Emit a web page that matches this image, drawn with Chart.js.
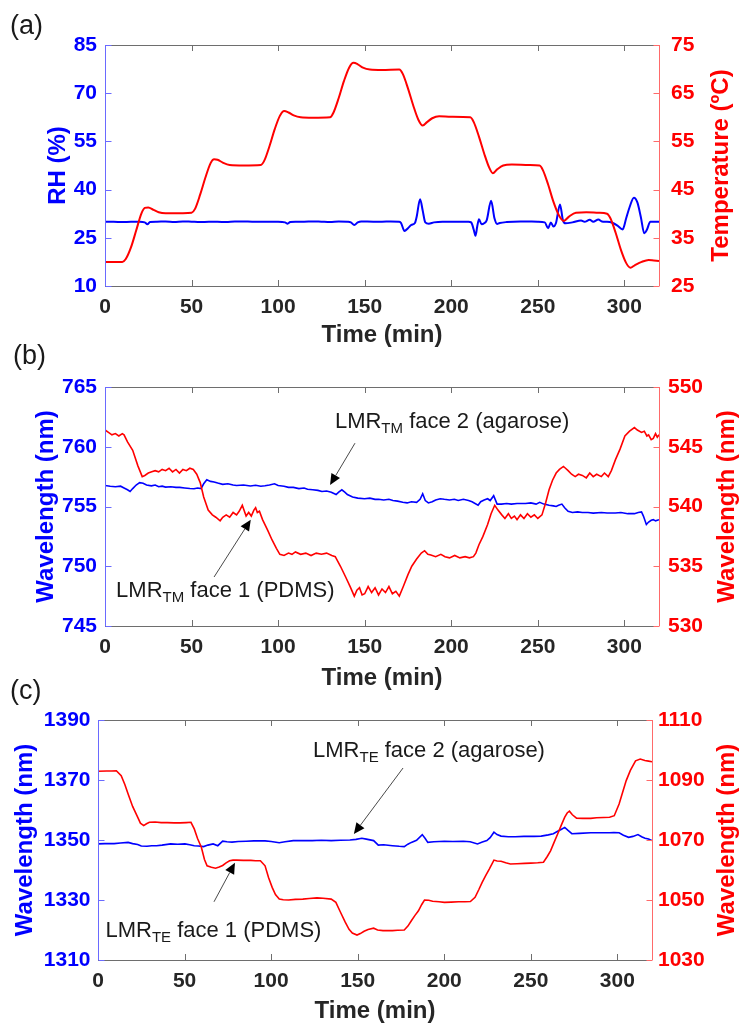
<!DOCTYPE html>
<html><head><meta charset="utf-8">
<script src="https://cdn.jsdelivr.net/npm/chart.js@4.4.1/dist/chart.umd.min.js"></script>
<style>
html,body{margin:0;padding:0;background:#fff;width:742px;height:1027px;overflow:hidden;position:relative;}
canvas{position:absolute;left:0;}
.lbl{position:absolute;font-family:"Liberation Sans",Arial,sans-serif;font-size:27px;line-height:31px;color:#1a1a1a;}
</style></head><body>
<canvas id="ca" width="742" height="350" style="top:0px"></canvas>
<canvas id="cb" width="742" height="345" style="top:350px"></canvas>
<canvas id="cc" width="742" height="332" style="top:695px"></canvas>
<div class="lbl" style="left:10px;top:10px">(a)</div>
<div class="lbl" style="left:13px;top:340px">(b)</div>
<div class="lbl" style="left:10px;top:675px">(c)</div>
<script>
// ---------- tick labels ----------
const xTicks = [0, 50, 100, 150, 200, 250, 300];
const rhTicks = [10, 25, 40, 55, 70, 85];
const tempTicks = [25, 35, 45, 55, 65, 75];
const tmLeftTicks = [745, 750, 755, 760, 765];
const tmRightTicks = [530, 535, 540, 545, 550];
const teLeftTicks = [1310, 1330, 1350, 1370, 1390];
const teRightTicks = [1030, 1050, 1070, 1090, 1110];

// ---------- panel (a) ----------
const tempTime = [0,10,12,15,18,21,23,25,28,31,35,40,45,50,52,55,58,61,63,65,68,72,80,90,92,95,98,101,103.5,106,109,113,120,130,132,135,138,141,143.5,146,149,153,160,170,172,175,178,181,183.5,186,189,193,200,211,213,216,219,222,224,226.5,230,235,245,251,253,256,259,262,265,268,272,278,285,290,292,295,298,301,303.5,306,310,314,317,320];
const temperature = [30.0,30.0,30.6,33.0,36.5,40.0,41.2,41.3,40.8,40.3,40.1,40.1,40.1,40.2,41.0,44.0,47.5,50.5,51.3,51.2,50.6,50.1,50.0,50.1,51.0,54.0,57.5,60.3,61.3,61.0,60.4,60.0,59.9,60.0,61.0,64.0,67.5,70.3,71.3,71.0,70.3,69.9,69.8,69.9,69.0,66.0,62.5,59.5,58.3,59.0,59.8,60.2,60.1,60.0,59.0,56.0,52.5,49.5,48.4,49.2,50.0,50.2,50.1,50.0,49.0,46.0,42.5,39.8,38.5,39.4,40.2,40.3,40.2,40.0,39.0,36.0,32.5,29.8,28.8,29.3,30.0,30.4,30.3,30.2];

const rhTime = [0,5,10,15,20,23,24.5,26,30,35,40,45,50,55,60,65,70,75,80,85,90,95,100,104,105.5,107,110,115,120,125,130,135,140,142,144,146,148,155,160,165,170,171,173,175,177,179,180,182,183.5,185,187,190,195,200,205,210,211.5,213,214,215,216,217.5,219,220.5,223,225,226.5,228,232,240,250,254,256,257.5,259,260.5,262.8,264.5,266,270,275,277,280,282,285,287,290,293,296,299,301,303,305.5,307.5,309.5,311.5,313,315,320];
const rh = [30.0,30.0,29.9,30.0,30.0,29.8,29.2,29.9,30.0,30.1,29.9,30.1,30.0,29.9,30.0,30.0,29.9,30.1,30.1,30.0,30.0,30.0,30.0,29.8,29.4,29.9,30.0,30.0,30.1,30.0,29.9,30.1,30.0,29.8,29.0,29.8,30.1,30.0,30.0,30.1,30.0,29.6,27.1,28.0,29.0,29.6,31.5,37.0,33.5,29.8,29.4,29.8,30.0,30.0,30.0,30.0,29.8,27.5,25.6,28.5,30.8,29.2,29.5,30.5,36.5,31.0,29.3,29.6,29.9,30.1,30.0,29.8,28.0,29.8,28.5,29.6,35.4,30.5,29.5,29.8,30.4,30.0,30.6,30.0,30.7,30.1,30.0,29.7,28.8,27.6,31.0,34.5,37.5,36.0,31.5,26.4,27.5,30.0,30.0];

// ---------- panel (b) ----------
const tmFace1Time = [0,2,4,6,8,10,11,13,16,19,21.5,23,25,27,29,31,33,35,37,39,41,43,45,47,49,51,53,55,57,59.6,62,64,66.5,68,70,72,74,76,77.5,79.3,81.5,83,84.5,86,87,88,89.2,91,94,96.5,99,101,103.4,106,108,110,113,116,119,122,125,128,131,133,136,139,141.6,144,145.5,147,148.5,150,152,154,156,158,160,162,164,166,168,170,172.3,175,177.2,180,182.7,184.6,186.5,188.2,191,194,196.4,199,202,205,208,210.5,212.8,214.2,216,218.3,221,223,225.1,227,229.2,231,233,234.7,236.5,238,240,242,244,246,248,250,252.4,254.5,256.5,258.5,260.6,262.5,264.8,266,267.5,269.5,271.6,273.5,275.7,278,280,282,284,286.7,288.5,290.7,292.5,294.8,297.5,300.3,303,305.8,307.5,309.9,311.5,313,314,315.5,316.7,318,319,320];
const tmFace1 = [546.4,546.2,546.0,546.1,545.9,546.1,546.0,545.4,544.7,543.4,542.5,542.6,542.8,542.9,543.0,542.9,543.1,543.0,543.2,542.9,543.1,542.8,543.1,543.0,543.2,543.1,542.7,542.0,540.8,539.7,539.3,539.1,538.8,539.1,539.3,539.1,539.5,539.3,539.6,540.1,539.2,539.5,539.2,539.7,539.9,539.5,539.6,538.9,538.0,537.2,536.5,536.0,535.9,536.1,536.0,536.2,536.0,536.1,535.9,536.1,536.0,536.1,535.9,535.8,535.0,534.1,533.3,532.5,533.0,533.2,532.6,532.7,533.3,532.8,533.2,532.6,533.1,532.8,533.3,532.7,532.9,532.5,533.3,534.3,535.0,535.6,536.1,536.3,536.0,535.95,535.8,536.0,535.8,535.7,535.9,535.7,535.8,535.7,535.8,536.1,536.8,537.5,538.5,539.4,540.1,539.7,539.3,539.0,539.4,539.0,539.2,538.9,539.3,539.0,539.4,539.1,539.3,539.0,539.3,540.3,541.4,542.2,542.8,543.1,543.35,543.2,543.0,542.7,542.5,542.7,542.6,542.4,542.8,542.5,542.7,542.5,542.8,542.5,543.0,543.9,544.8,545.9,546.3,546.6,546.4,546.2,546.3,545.9,546.0,545.6,545.7,546.1,545.8,546.0];

const tmFace2Time = [0,3,6,9,11,13,14.5,16,18,20,22,24,26.8,29,31,33,35,38,41,43.2,46,49,51.4,53.5,55.5,57,58.8,61,63,65.1,68,71,74,76,80,84,87,90,92.4,95,97.9,100,103.4,106,108.8,112,115,117,120,123,125.3,128,130.7,133.5,135,136.8,138.5,140,143,146,149.9,153,156,158,161,164,166.3,169,172,174.5,177,180,182,183.5,185,186.8,189,191,193.6,196,199,201.8,204,207,210,212,215.5,217,219,221,222.5,224.5,226.5,229,232,234.7,238,242.9,246,249,251.1,253.5,256.5,259,260.6,262,263.9,265.5,267.5,270,273,275.7,279,282,286.7,290,294.8,298,302,305.8,308,309.9,311,312.7,314,315.5,316.7,318,320];
const tmFace2 = [756.76,756.7,756.65,756.7,756.55,756.4,756.26,756.5,756.8,757.0,756.95,756.8,756.73,756.8,756.65,756.7,756.62,756.65,756.6,756.6,756.55,756.5,756.48,756.55,756.5,756.9,757.24,757.1,757.05,756.96,756.85,756.9,756.8,756.76,756.8,756.72,756.78,756.7,756.73,756.8,756.9,756.75,756.7,756.6,756.6,756.5,756.55,756.45,756.4,756.35,756.26,756.3,756.2,756.0,756.2,756.4,756.2,756.0,755.8,755.7,755.65,755.7,755.6,755.6,755.55,755.6,755.5,755.45,755.35,755.3,755.4,755.35,755.6,756.06,755.5,755.3,755.4,755.55,755.65,755.6,755.55,755.6,755.5,755.6,755.5,755.4,755.1,755.4,755.55,755.65,755.5,755.9,755.2,755.2,755.25,755.2,755.25,755.25,755.3,755.2,755.35,755.2,755.1,755.05,755.0,755.1,755.2,754.9,754.6,754.5,754.55,754.5,754.5,754.45,754.5,754.45,754.45,754.5,754.4,754.4,754.5,754.55,754.2,753.5,753.7,753.85,753.9,753.8,753.9];

// ---------- panel (c) ----------
const teFace1Time = [0,5,8,10.6,13.4,15.5,17.4,20,22.9,24.5,26.4,28,29.7,33,36.5,40,44,47.4,51,53.7,55.6,57.5,59.7,61.5,63,65.5,67.9,70,72,74,76,78,80.1,84,88.3,91,93.8,96.5,98.5,100.6,102.5,104.7,107,110.1,114,118.3,122,126.5,130,134.7,137.4,140,142.8,145,146.9,149.6,151.5,153.7,156,159.2,161.5,164.6,167,170.1,173,176.9,179,181,183,185.1,187,188.6,191,193.3,197,200.1,204,208.3,212,215.1,217.8,220,221.9,224,226,228.7,230.5,232.8,235.5,238.2,242,246.4,250,254,257.3,259.5,261.4,263.5,265.5,267.5,269.6,271,272.3,274,276.4,280,284.6,288,292,295.5,298.2,301,303,305.1,307.5,310.5,313.2,315.9,318,320];
const teFace1 = [1092.9,1093.0,1093.0,1093.1,1091.4,1088.5,1085.3,1081.2,1077.6,1075.6,1074.8,1075.4,1075.9,1076.0,1075.8,1075.8,1075.7,1075.7,1075.8,1075.9,1073.7,1070.5,1067.6,1063.5,1061.4,1060.9,1060.6,1061.0,1061.5,1062.4,1063.1,1063.3,1063.3,1063.2,1063.2,1063.1,1063.1,1061.4,1057.5,1054.2,1051.8,1050.3,1050.1,1050.0,1050.2,1050.3,1050.5,1050.7,1050.6,1050.3,1049.2,1046.0,1042.6,1040.2,1039.0,1038.3,1038.8,1039.6,1040.2,1040.6,1040.0,1039.8,1039.8,1039.8,1039.9,1040.0,1041.3,1043.1,1044.8,1046.4,1048.5,1050.0,1049.9,1049.6,1049.4,1049.2,1049.3,1049.4,1049.4,1049.5,1050.9,1053.5,1055.9,1058.2,1060.3,1063.3,1063.0,1062.9,1062.4,1062.0,1062.1,1062.2,1062.3,1062.4,1062.6,1064.5,1066.4,1069.3,1072.0,1074.8,1077.6,1079.0,1079.6,1078.4,1077.3,1077.2,1077.2,1077.4,1077.5,1077.6,1078.1,1082.0,1085.8,1089.8,1093.2,1096.4,1097.0,1096.5,1096.3,1096.1];

const teFace2Time = [0,4,9.3,13,17.4,20,22.9,25,28.3,31,33.8,37,42,46,50.2,53,55.6,58,61,63.5,66.5,69.2,72,74.5,77.4,81,85.6,90,96.5,100,104.7,108,112.8,118,123.7,129,134.7,140,145.5,149,152.4,155,159.2,161.9,165,170.1,174,176.9,179,181,184,187.3,189,190.5,194,200.1,205,211,215,219.2,222,224.6,226.5,228.7,230.5,232.8,237,241,246,251.9,256,260.1,263,265.5,267.5,269.6,271.5,273.7,278,284.6,290,295.5,298,301,303.5,306.5,309,311.9,314,316,318,320];
const teFace2 = [1348.7,1348.8,1348.8,1349.0,1349.2,1348.8,1348.5,1348.0,1347.9,1348.1,1348.1,1348.3,1348.7,1348.6,1348.7,1348.4,1348.1,1348.0,1347.8,1348.3,1348.7,1348.1,1349.6,1349.4,1349.3,1349.5,1349.6,1349.7,1349.7,1349.5,1349.1,1349.4,1349.8,1349.8,1349.8,1349.9,1349.8,1349.9,1350.0,1350.2,1350.6,1350.3,1349.8,1348.3,1348.4,1348.1,1347.9,1347.8,1348.6,1349.2,1349.9,1351.8,1350.5,1349.2,1349.4,1349.6,1349.5,1349.6,1349.4,1348.7,1349.3,1349.8,1350.8,1352.6,1351.8,1351.3,1351.1,1351.1,1351.2,1351.2,1351.3,1351.7,1352.1,1352.9,1353.5,1354.2,1353.2,1352.1,1352.2,1352.4,1352.4,1352.4,1352.5,1352.4,1351.6,1350.9,1351.2,1351.8,1351.1,1350.6,1350.3,1349.8];

// ---------- helpers ----------
const FONT = '"Liberation Sans", Arial, Helvetica, sans-serif';
const BLUE = '#0000ff', RED = '#ff0000', DARK = '#262626';
function pts(xs, ys) { return xs.map((x, i) => ({ x: x, y: ys[i] })); }
function setTicks(arr) { return function (s) { s.ticks = arr.map(v => ({ value: v })); }; }
const plain = v => String(v);

const framePlugin = {
  id: 'frame',
  afterDraw(chart, args, o) {
    const { ctx, chartArea: ca, scales } = chart;
    const tl = 6;
    ctx.save();
    ctx.lineWidth = 1;
    ctx.strokeStyle = '#6e6e6e';
    scales.x.ticks.forEach(t => {
      const px = Math.round(scales.x.getPixelForValue(t.value)) + 0.5;
      ctx.beginPath();
      ctx.moveTo(px, ca.bottom); ctx.lineTo(px, ca.bottom - tl);
      ctx.moveTo(px, ca.top); ctx.lineTo(px, ca.top + tl);
      ctx.stroke();
    });
    ctx.beginPath();
    ctx.moveTo(ca.left, Math.round(ca.top) + 0.5); ctx.lineTo(ca.right, Math.round(ca.top) + 0.5);
    ctx.moveTo(ca.left, Math.round(ca.bottom) + 0.5); ctx.lineTo(ca.right, Math.round(ca.bottom) + 0.5);
    ctx.stroke();
    ctx.strokeStyle = '#6a6aff';
    ctx.beginPath();
    const lx = Math.round(ca.left) + 0.5;
    ctx.moveTo(lx, ca.top); ctx.lineTo(lx, ca.bottom);
    scales.yL.ticks.forEach(t => {
      const py = Math.round(scales.yL.getPixelForValue(t.value)) + 0.5;
      ctx.moveTo(lx, py); ctx.lineTo(lx + tl, py);
    });
    ctx.stroke();
    ctx.strokeStyle = '#ff6a6a';
    ctx.beginPath();
    const rx = Math.round(ca.right) + 0.5;
    ctx.moveTo(rx, ca.top); ctx.lineTo(rx, ca.bottom);
    scales.yR.ticks.forEach(t => {
      const py = Math.round(scales.yR.getPixelForValue(t.value)) + 0.5;
      ctx.moveTo(rx, py); ctx.lineTo(rx - tl, py);
    });
    ctx.stroke();
    // right title (reads bottom to top)
    ctx.save();
    ctx.translate(o.rtx, (ca.top + ca.bottom) / 2);
    ctx.rotate(-Math.PI / 2);
    ctx.font = 'bold 24px ' + FONT;
    ctx.fillStyle = RED;
    ctx.textAlign = 'center';
    ctx.textBaseline = 'middle';
    ctx.fillText(o.rightTitle, 0, 0);
    ctx.restore();
    // annotations
    (o.annos || []).forEach(a => {
      const x = scales.x.getPixelForValue(a.tx);
      const y = scales.yL.getPixelForValue(a.ty);
      ctx.fillStyle = '#1a1a1a';
      ctx.textAlign = 'left';
      ctx.textBaseline = 'middle';
      ctx.font = '22px ' + FONT;
      ctx.fillText('LMR', x, y);
      let w = ctx.measureText('LMR').width;
      ctx.font = '15px ' + FONT;
      ctx.fillText(a.sub, x + w, y + 7);
      w += ctx.measureText(a.sub).width;
      ctx.font = '22px ' + FONT;
      ctx.fillText(a.rest, x + w, y);
      const x0 = scales.x.getPixelForValue(a.ax0), y0 = scales.yL.getPixelForValue(a.ay0);
      const x1 = scales.x.getPixelForValue(a.ax1), y1 = scales.yL.getPixelForValue(a.ay1);
      const ang = Math.atan2(y1 - y0, x1 - x0);
      const hl = 11, hw = 5;
      const bx = x1 - hl * Math.cos(ang), by = y1 - hl * Math.sin(ang);
      ctx.strokeStyle = '#1a1a1a';
      ctx.lineWidth = 0.8;
      ctx.beginPath(); ctx.moveTo(x0, y0); ctx.lineTo(bx, by); ctx.stroke();
      ctx.beginPath();
      ctx.moveTo(x1, y1);
      ctx.lineTo(bx + hw * Math.sin(ang), by - hw * Math.cos(ang));
      ctx.lineTo(bx - hw * Math.sin(ang), by + hw * Math.cos(ang));
      ctx.closePath();
      ctx.fillStyle = '#000';
      ctx.fill();
    });
    ctx.restore();
  }
};

function makeChart(id, cfg) {
  const canvas = document.getElementById(id);
  const H = canvas.height;
  const xh = H - cfg.plotBottom;
  return new Chart(canvas, {
    type: 'line',
    data: { datasets: cfg.datasets },
    plugins: [framePlugin],
    options: {
      responsive: false, animation: false, devicePixelRatio: 1,
      layout: { padding: { top: cfg.plotTop, left: 0, right: 0, bottom: 0 }, autoPadding: false },
      elements: { point: { radius: 0 } },
      plugins: {
        legend: { display: false }, tooltip: { enabled: false },
        frame: { rightTitle: cfg.rightTitle, rtx: cfg.rtx, annos: cfg.annos }
      },
      scales: {
        x: {
          type: 'linear', min: 0, max: 320,
          afterBuildTicks: setTicks(xTicks),
          afterFit: s => { s.height = xh; },
          grid: { display: false, drawTicks: false }, border: { display: false },
          ticks: { color: DARK, font: { family: FONT, size: 21, weight: 'bold' }, padding: 9, maxRotation: 0, callback: plain },
          title: { display: true, text: 'Time (min)', color: DARK, font: { family: FONT, size: 24, weight: 'bold' }, padding: { top: 0, bottom: cfg.xtPad } }
        },
        yL: {
          type: 'linear', position: 'left', min: cfg.lTicks[0], max: cfg.lTicks[cfg.lTicks.length - 1],
          afterBuildTicks: setTicks(cfg.lTicks),
          afterFit: s => { s.width = cfg.plotLeft; },
          grid: { display: false, drawTicks: false }, border: { display: false },
          ticks: { color: BLUE, font: { family: FONT, size: 21, weight: 'bold' }, padding: cfg.lPad, callback: plain },
          title: { display: true, text: cfg.leftTitle, color: BLUE, font: { family: FONT, size: 24, weight: 'bold' }, padding: { top: cfg.ltPad, bottom: 0 } }
        },
        yR: {
          type: 'linear', position: 'right', min: cfg.rTicks[0], max: cfg.rTicks[cfg.rTicks.length - 1],
          afterBuildTicks: setTicks(cfg.rTicks),
          afterFit: s => { s.width = 742 - cfg.plotRight; },
          grid: { display: false, drawTicks: false }, border: { display: false },
          ticks: { color: RED, font: { family: FONT, size: 21, weight: 'bold' }, padding: cfg.rPad, callback: plain }
        }
      }
    }
  });
}

makeChart('ca', {
  plotTop: 45, plotBottom: 286, plotLeft: 105, plotRight: 659, xtPad: 0, ltPad: 44, lPad: 8, rPad: 12,
  lTicks: rhTicks, rTicks: tempTicks, leftTitle: 'RH (%)', rightTitle: 'Temperature (ºC)', rtx: 721,
  datasets: [
    { data: pts(tempTime, temperature), yAxisID: 'yR', borderColor: RED, borderWidth: 2, cubicInterpolationMode: 'monotone' },
    { data: pts(rhTime, rh), yAxisID: 'yL', borderColor: BLUE, borderWidth: 2, cubicInterpolationMode: 'monotone' }
  ]
});

makeChart('cb', {
  plotTop: 37, plotBottom: 276, plotLeft: 105, plotRight: 659, xtPad: 2.6, ltPad: 32, lPad: 8, rPad: 9,
  lTicks: tmLeftTicks, rTicks: tmRightTicks, leftTitle: 'Wavelength (nm)', rightTitle: 'Wavelength (nm)', rtx: 727,
  annos: [
    { tx: 132.8, ty: 762.1, sub: 'TM', rest: ' face 2 (agarose)', ax0: 144.4, ay0: 760.3, ax1: 130, ay1: 756.8 },
    { tx: 6.4, ty: 747.9, sub: 'TM', rest: ' face 1 (PDMS)', ax0: 63, ay0: 749.1, ax1: 84.2, ay1: 753.9 }
  ],
  datasets: [
    { data: pts(tmFace1Time, tmFace1), yAxisID: 'yR', borderColor: RED, borderWidth: 1.6, tension: 0 },
    { data: pts(tmFace2Time, tmFace2), yAxisID: 'yL', borderColor: BLUE, borderWidth: 1.6, tension: 0 }
  ]
});

makeChart('cc', {
  plotTop: 25, plotBottom: 265, plotLeft: 98, plotRight: 652, xtPad: 0.9, ltPad: 11, lPad: 7.5, rPad: 6,
  lTicks: teLeftTicks, rTicks: teRightTicks, leftTitle: 'Wavelength (nm)', rightTitle: 'Wavelength (nm)', rtx: 727.5,
  annos: [
    { tx: 124.2, ty: 1379.8, sub: 'TE', rest: ' face 2 (agarose)', ax0: 176.2, ay0: 1374, ax1: 147.8, ay1: 1352 },
    { tx: 4.3, ty: 1319.8, sub: 'TE', rest: ' face 1 (PDMS)', ax0: 67, ay0: 1329.4, ax1: 79.1, ay1: 1342.4 }
  ],
  datasets: [
    { data: pts(teFace1Time, teFace1), yAxisID: 'yR', borderColor: RED, borderWidth: 1.6, tension: 0 },
    { data: pts(teFace2Time, teFace2), yAxisID: 'yL', borderColor: BLUE, borderWidth: 1.6, tension: 0 }
  ]
});
</script>
</body></html>
